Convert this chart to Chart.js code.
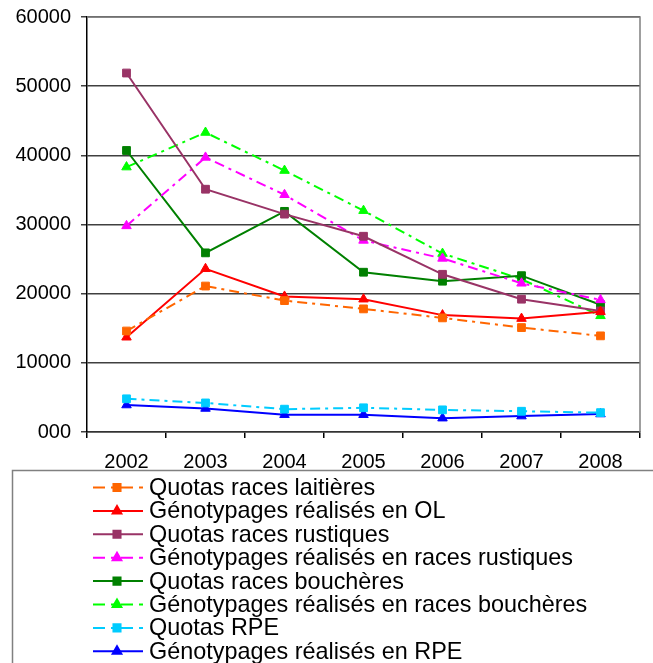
<!DOCTYPE html>
<html>
<head>
<meta charset="utf-8">
<script src="https://cdn.jsdelivr.net/npm/chart.js@4/dist/chart.umd.min.js"></script>
<style>
  html, body { margin: 0; padding: 0; background: #fff; }
  canvas { display: block; }
</style>
</head>
<body>
<canvas id="chart" width="653" height="663"></canvas>
<script>
// data
var years = ['2002', '2003', '2004', '2005', '2006', '2007', '2008'];
var yTicks = [0, 10000, 20000, 30000, 40000, 50000, 60000];

var quotasLaitieres = [14600, 21100, 19000, 17800, 16500, 15100, 13900];
var genoOL = [13700, 23600, 19600, 19200, 16900, 16400, 17400];
var quotasRustiques = [51900, 35100, 31500, 28300, 22800, 19200, 17500];
var genoRustiques = [29800, 39700, 34300, 27700, 25100, 21500, 19100];
var quotasBoucheres = [40700, 25900, 31900, 23100, 21800, 22600, 18400];
var genoBoucheres = [38300, 43300, 37800, 32000, 25800, 22100, 16800];
var quotasRPE = [4800, 4200, 3300, 3500, 3200, 3000, 2800];
var genoRPE = [3900, 3400, 2500, 2500, 2000, 2300, 2600];

var dashDot = [10, 5, 3, 5];
var font = '"Liberation Sans", Arial, sans-serif';

function serie(label, data, color, marker, dash) {
    return {
        label: label,
        data: data,
        borderColor: color,
        backgroundColor: color,
        pointStyle: marker,
        pointRadius: 5.5,
        pointHoverRadius: 5.5,
        pointBorderWidth: 1,
        borderWidth: 2,
        borderDash: dash,
        tension: 0
    };
}

var datasets = [
    serie('Quotas races laitières', quotasLaitieres, '#FF6600', 'rect', dashDot),
    serie('Génotypages réalisés en OL', genoOL, '#FF0000', 'triangle', []),
    serie('Quotas races rustiques', quotasRustiques, '#993366', 'rect', []),
    serie('Génotypages réalisés en races rustiques', genoRustiques, '#FF00FF', 'triangle', dashDot),
    serie('Quotas races bouchères', quotasBoucheres, '#008000', 'rect', []),
    serie('Génotypages réalisés en races bouchères', genoBoucheres, '#00FF00', 'triangle', dashDot),
    serie('Quotas RPE', quotasRPE, '#00CCFF', 'rect', dashDot),
    serie('Génotypages réalisés en RPE', genoRPE, '#0000FF', 'triangle', [])
];

// right / top frame + boxed legend below the chart
var frameAndLegend = {
    id: 'frameAndLegend',
    afterDraw: function (chart) {
        var c = chart.ctx;
        var a = chart.chartArea;
        c.save();
        c.strokeStyle = '#808080';
        c.lineWidth = 1.5;
        c.beginPath();
        c.moveTo(a.left, a.top);
        c.lineTo(a.right, a.top);
        c.lineTo(a.right, a.bottom);
        c.stroke();

        // legend box
        c.strokeStyle = '#808080';
        c.lineWidth = 1.5;
        c.strokeRect(12.5, 470.5, 700, 300);

        c.font = '23.4px ' + font;
        c.textBaseline = 'middle';
        chart.data.datasets.forEach(function (ds, i) {
            var y = 487.5 + i * 23.4;
            c.strokeStyle = ds.borderColor;
            c.lineWidth = 2;
            c.setLineDash(ds.borderDash.length ? [12, 6, 4, 6] : []);
            c.beginPath();
            c.moveTo(93, y);
            c.lineTo(143, y);
            c.stroke();
            c.setLineDash([]);
            Chart.helpers.drawPoint(c, {
                pointStyle: ds.pointStyle,
                radius: 5,
                borderWidth: 1
            }, 117, y);
            c.fillStyle = ds.borderColor;
            c.fill();
            c.fillStyle = '#000';
            c.fillText(ds.label, 149, y + 1);
        });
        c.restore();
    }
};

new Chart(document.getElementById('chart'), {
    type: 'line',
    data: {
        labels: years,
        datasets: datasets
    },
    options: {
        responsive: false,
        animation: false,
        layout: {
            padding: { left: 0, right: 13, top: 17, bottom: 191 }
        },
        plugins: {
            legend: { display: false },
            tooltip: { enabled: false }
        },
        scales: {
            x: {
                offset: true,
                grid: {
                    offset: true,
                    drawOnChartArea: false,
                    drawTicks: true,
                    tickLength: 6,
                    color: '#000',
                    lineWidth: 1.5
                },
                border: { color: '#333', width: 1.5 },
                ticks: {
                    color: '#000',
                    padding: 12,
                    font: { family: font, size: 20 }
                },
                afterFit: function (scale) {
                    scale.height = 40;
                    scale.paddingLeft = 0;
                    scale.paddingRight = 0;
                }
            },
            y: {
                min: 0,
                max: 60000,
                afterBuildTicks: function (scale) {
                    scale.ticks = yTicks.map(function (v) { return { value: v }; });
                },
                grid: {
                    color: '#404040',
                    lineWidth: 1.5,
                    tickLength: 6
                },
                border: { color: '#000', width: 1.5 },
                ticks: {
                    color: '#000',
                    padding: 10,
                    font: { family: font, size: 20 },
                    callback: function (v) { return v === 0 ? '000' : String(v); }
                },
                afterFit: function (scale) {
                    scale.width = 87;
                    scale.paddingTop = 0;
                    scale.paddingBottom = 0;
                }
            }
        }
    },
    plugins: [frameAndLegend]
});
</script>
</body>
</html>
